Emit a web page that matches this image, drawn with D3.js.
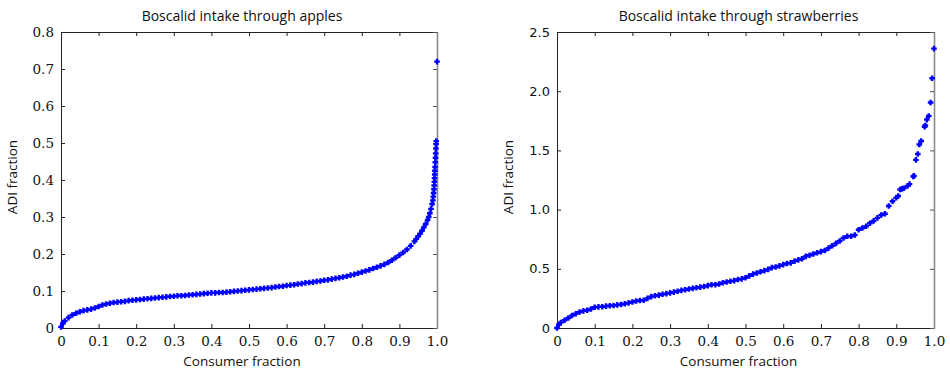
<!DOCTYPE html>
<html>
<head>
<meta charset="utf-8">
<script src="https://cdn.jsdelivr.net/npm/d3@7"></script>
<style>
  body { margin: 0; background: #fff; }
  svg { display: block; }
  .title, .label { font-family: "Open Sans", sans-serif; fill: #111; }
  .tick-serif { font-family: "DejaVu Serif", serif; font-size: 13.5px; fill: #111; }
  .tick-sans { font-family: "DejaVu Sans", sans-serif; font-size: 13px; fill: #111; }
</style>
</head>
<body>
<svg id="chart" width="950" height="373"></svg>
<script>
// apples: consumer fraction vs ADI fraction
const appleFraction = [0, 0.005, 0.01, 0.02, 0.03, 0.04, 0.05, 0.06, 0.07, 0.08, 0.09,
  0.10, 0.11, 0.12, 0.13, 0.14, 0.15, 0.16, 0.17, 0.18, 0.19,
  0.20, 0.21, 0.22, 0.23, 0.24, 0.25, 0.26, 0.27, 0.28, 0.29,
  0.30, 0.31, 0.32, 0.33, 0.34, 0.35, 0.36, 0.37, 0.38, 0.39,
  0.40, 0.41, 0.42, 0.43, 0.44, 0.45, 0.46, 0.47, 0.48, 0.49,
  0.50, 0.51, 0.52, 0.53, 0.54, 0.55, 0.56, 0.57, 0.58, 0.59,
  0.60, 0.61, 0.62, 0.63, 0.64, 0.65, 0.66, 0.67, 0.68, 0.69,
  0.70, 0.71, 0.72, 0.73, 0.74, 0.75, 0.76, 0.77, 0.78, 0.79,
  0.80, 0.81, 0.82, 0.83, 0.84, 0.85, 0.86, 0.87, 0.88, 0.89,
  0.90, 0.91, 0.92, 0.93, 0.94, 0.945, 0.95, 0.955, 0.96, 0.965,
  0.97, 0.975, 0.978, 0.981, 0.984, 0.987, 0.989, 0.99, 0.991, 0.992,
  0.9925, 0.993, 0.9935, 0.994, 0.9945, 0.995, 0.9955, 0.996, 0.9965, 0.997,
  0.9975, 0.998, 1.0];
const appleADI = [0.003, 0.012, 0.019, 0.028, 0.035, 0.040, 0.044, 0.047, 0.049, 0.051, 0.054,
  0.058, 0.062, 0.065, 0.067, 0.069, 0.070, 0.071, 0.072, 0.074, 0.075,
  0.076, 0.077, 0.078, 0.079, 0.080, 0.081, 0.082, 0.083, 0.084, 0.085,
  0.086, 0.087, 0.087, 0.088, 0.089, 0.090, 0.091, 0.092, 0.093, 0.094,
  0.095, 0.095, 0.096, 0.096, 0.097, 0.098, 0.099, 0.100, 0.101, 0.102,
  0.103, 0.104, 0.105, 0.106, 0.107, 0.108, 0.109, 0.111, 0.112, 0.113,
  0.115, 0.116, 0.117, 0.119, 0.120, 0.122, 0.123, 0.124, 0.126, 0.127,
  0.129, 0.130, 0.132, 0.134, 0.136, 0.138, 0.140, 0.143, 0.145, 0.148,
  0.151, 0.154, 0.157, 0.161, 0.164, 0.168, 0.172, 0.177, 0.183, 0.190,
  0.197, 0.204, 0.212, 0.222, 0.234, 0.241, 0.248, 0.255, 0.263, 0.272,
  0.281, 0.292, 0.300, 0.310, 0.322, 0.335, 0.345, 0.355, 0.365, 0.375,
  0.385, 0.395, 0.405, 0.415, 0.425, 0.435, 0.448, 0.460, 0.472, 0.485,
  0.497, 0.505, 0.720];

// strawberries
const strawFraction = [0, 0.005, 0.01, 0.02, 0.03, 0.04, 0.05, 0.06, 0.07, 0.08, 0.09,
  0.10, 0.11, 0.12, 0.13, 0.14, 0.15, 0.16, 0.17, 0.18, 0.19,
  0.20, 0.21, 0.22, 0.23, 0.24, 0.25, 0.26, 0.27, 0.28, 0.29,
  0.30, 0.31, 0.32, 0.33, 0.34, 0.35, 0.36, 0.37, 0.38, 0.39,
  0.40, 0.41, 0.42, 0.43, 0.44, 0.45, 0.46, 0.47, 0.48, 0.49,
  0.50, 0.51, 0.52, 0.53, 0.54, 0.55, 0.56, 0.57, 0.58, 0.59,
  0.60, 0.61, 0.62, 0.63, 0.64, 0.65, 0.66, 0.67, 0.68, 0.69,
  0.70, 0.71, 0.72, 0.73, 0.74, 0.75, 0.76, 0.77, 0.78, 0.79,
  0.80, 0.81, 0.82, 0.83, 0.84, 0.85, 0.86, 0.87, 0.88, 0.89,
  0.90, 0.905, 0.91, 0.915, 0.92, 0.93, 0.935, 0.945, 0.947, 0.952,
  0.957, 0.961, 0.966, 0.975, 0.977, 0.981, 0.986, 0.991, 0.995, 1.0];
const strawADI = [0.0, 0.03, 0.045, 0.065, 0.085, 0.105, 0.12, 0.135, 0.145, 0.15, 0.16,
  0.175, 0.178, 0.18, 0.185, 0.188, 0.19, 0.195, 0.198, 0.205, 0.212,
  0.22, 0.228, 0.232, 0.235, 0.25, 0.265, 0.272, 0.278, 0.285, 0.29,
  0.297, 0.303, 0.31, 0.318, 0.323, 0.33, 0.335, 0.34, 0.345, 0.35,
  0.358, 0.365, 0.365, 0.372, 0.382, 0.388, 0.395, 0.40, 0.41, 0.415,
  0.425, 0.44, 0.455, 0.465, 0.475, 0.485, 0.495, 0.51, 0.515, 0.525,
  0.535, 0.545, 0.55, 0.565, 0.575, 0.585, 0.605, 0.615, 0.625, 0.635,
  0.645, 0.655, 0.675, 0.695, 0.715, 0.735, 0.76, 0.775, 0.775, 0.785,
  0.83, 0.845, 0.86, 0.885, 0.905, 0.93, 0.955, 0.965, 1.03, 1.07,
  1.10, 1.115, 1.17, 1.175, 1.18, 1.20, 1.215, 1.28, 1.285, 1.42,
  1.47, 1.55, 1.58, 1.70, 1.71, 1.76, 1.79, 1.905, 2.11, 2.36];

const xTicks = [0, 0.1, 0.2, 0.3, 0.4, 0.5, 0.6, 0.7, 0.8, 0.9, 1.0];
const xTickLabels = ['0', '0.1', '0.2', '0.3', '0.4', '0.5', '0.6', '0.7', '0.8', '0.9', '1.0'];
const appleYTicks = [0, 0.1, 0.2, 0.3, 0.4, 0.5, 0.6, 0.7, 0.8];
const appleYTickLabels = ['0', '0.1', '0.2', '0.3', '0.4', '0.5', '0.6', '0.7', '0.8'];
const strawYTicks = [0, 0.5, 1.0, 1.5, 2.0, 2.5];
const strawYTickLabels = ['0', '0.5', '1.0', '1.5', '2.0', '2.5'];

const panels = [
  {
    title: 'Boscalid intake through apples',
    xs: appleFraction, ys: appleADI,
    yMax: 0.8, yTicks: appleYTicks, yLabels: appleYTickLabels,
    left: 61, right: 437, yTickClass: 'tick-serif'
  },
  {
    title: 'Boscalid intake through strawberries',
    xs: strawFraction, ys: strawADI,
    yMax: 2.5, yTicks: strawYTicks, yLabels: strawYTickLabels,
    left: 557, right: 934, yTickClass: 'tick-sans'
  }
];

const TOP = 32;
const BOTTOM = 328;
const TICK = 4;

const svg = d3.select('#chart');

panels.forEach(p => {
  const x = d3.scaleLinear().domain([0, 1]).range([p.left, p.right]);
  const y = d3.scaleLinear().domain([0, p.yMax]).range([BOTTOM, TOP]);
  const g = svg.append('g');

  // inward ticks on all four sides
  const axisB = d3.axisBottom(x).tickValues(xTicks).tickSizeInner(-TICK).tickSizeOuter(0)
    .tickFormat((d, i) => xTickLabels[i]).tickPadding(8);
  const axisT = d3.axisTop(x).tickValues(xTicks).tickSizeInner(-TICK).tickSizeOuter(0).tickFormat('');
  const axisL = d3.axisLeft(y).tickValues(p.yTicks).tickSizeInner(-TICK).tickSizeOuter(0)
    .tickFormat((d, i) => p.yLabels[i]).tickPadding(7);
  const axisR = d3.axisRight(y).tickValues(p.yTicks).tickSizeInner(-TICK).tickSizeOuter(0).tickFormat('');

  const gB = g.append('g').attr('transform', `translate(0,${BOTTOM})`).call(axisB);
  const gT = g.append('g').attr('transform', `translate(0,${TOP})`).call(axisT);
  const gL = g.append('g').attr('transform', `translate(${p.left},0)`).call(axisL);
  const gR = g.append('g').attr('transform', `translate(${p.right},0)`).call(axisR);

  [gB, gT, gL, gR].forEach(a => a.attr('font-family', null).attr('font-size', null));
  gB.selectAll('text').attr('class', 'tick-serif').attr('fill', null);
  gL.selectAll('text').attr('class', p.yTickClass).attr('fill', null);
  gB.selectAll('.domain, line').attr('stroke', '#222');
  gT.selectAll('.domain, line').attr('stroke', '#222');
  gL.selectAll('.domain, line').attr('stroke', '#222');
  gR.select('.domain').attr('stroke', '#8a8a8a').attr('stroke-width', 1.6);
  gR.selectAll('line').attr('stroke', '#555');

  // '+' markers
  g.append('g')
    .selectAll('path')
    .data(p.xs.map((v, i) => [v, p.ys[i]]))
    .join('path')
    .attr('transform', d => `translate(${x(d[0])},${y(d[1])})`)
    .attr('d', 'M-2.8,0H2.8M0,-2.8V2.8')
    .attr('stroke', '#0000ff')
    .attr('stroke-width', 2.4)
    .attr('fill', 'none');

  const cx = (p.left + p.right) / 2 - 7;
  g.append('text').attr('class', 'title')
    .attr('x', cx).attr('y', 21)
    .attr('text-anchor', 'middle').attr('font-size', 14)
    .text(p.title);
  g.append('text').attr('class', 'label')
    .attr('x', cx).attr('y', 366)
    .attr('text-anchor', 'middle').attr('font-size', 13.5)
    .text('Consumer fraction');
  g.append('text').attr('class', 'label')
    .attr('transform', `translate(${p.left - 44},${(TOP + BOTTOM) / 2 - 3}) rotate(-90)`)
    .attr('text-anchor', 'middle').attr('font-size', 13.5)
    .text('ADI fraction');
});
</script>
</body>
</html>
